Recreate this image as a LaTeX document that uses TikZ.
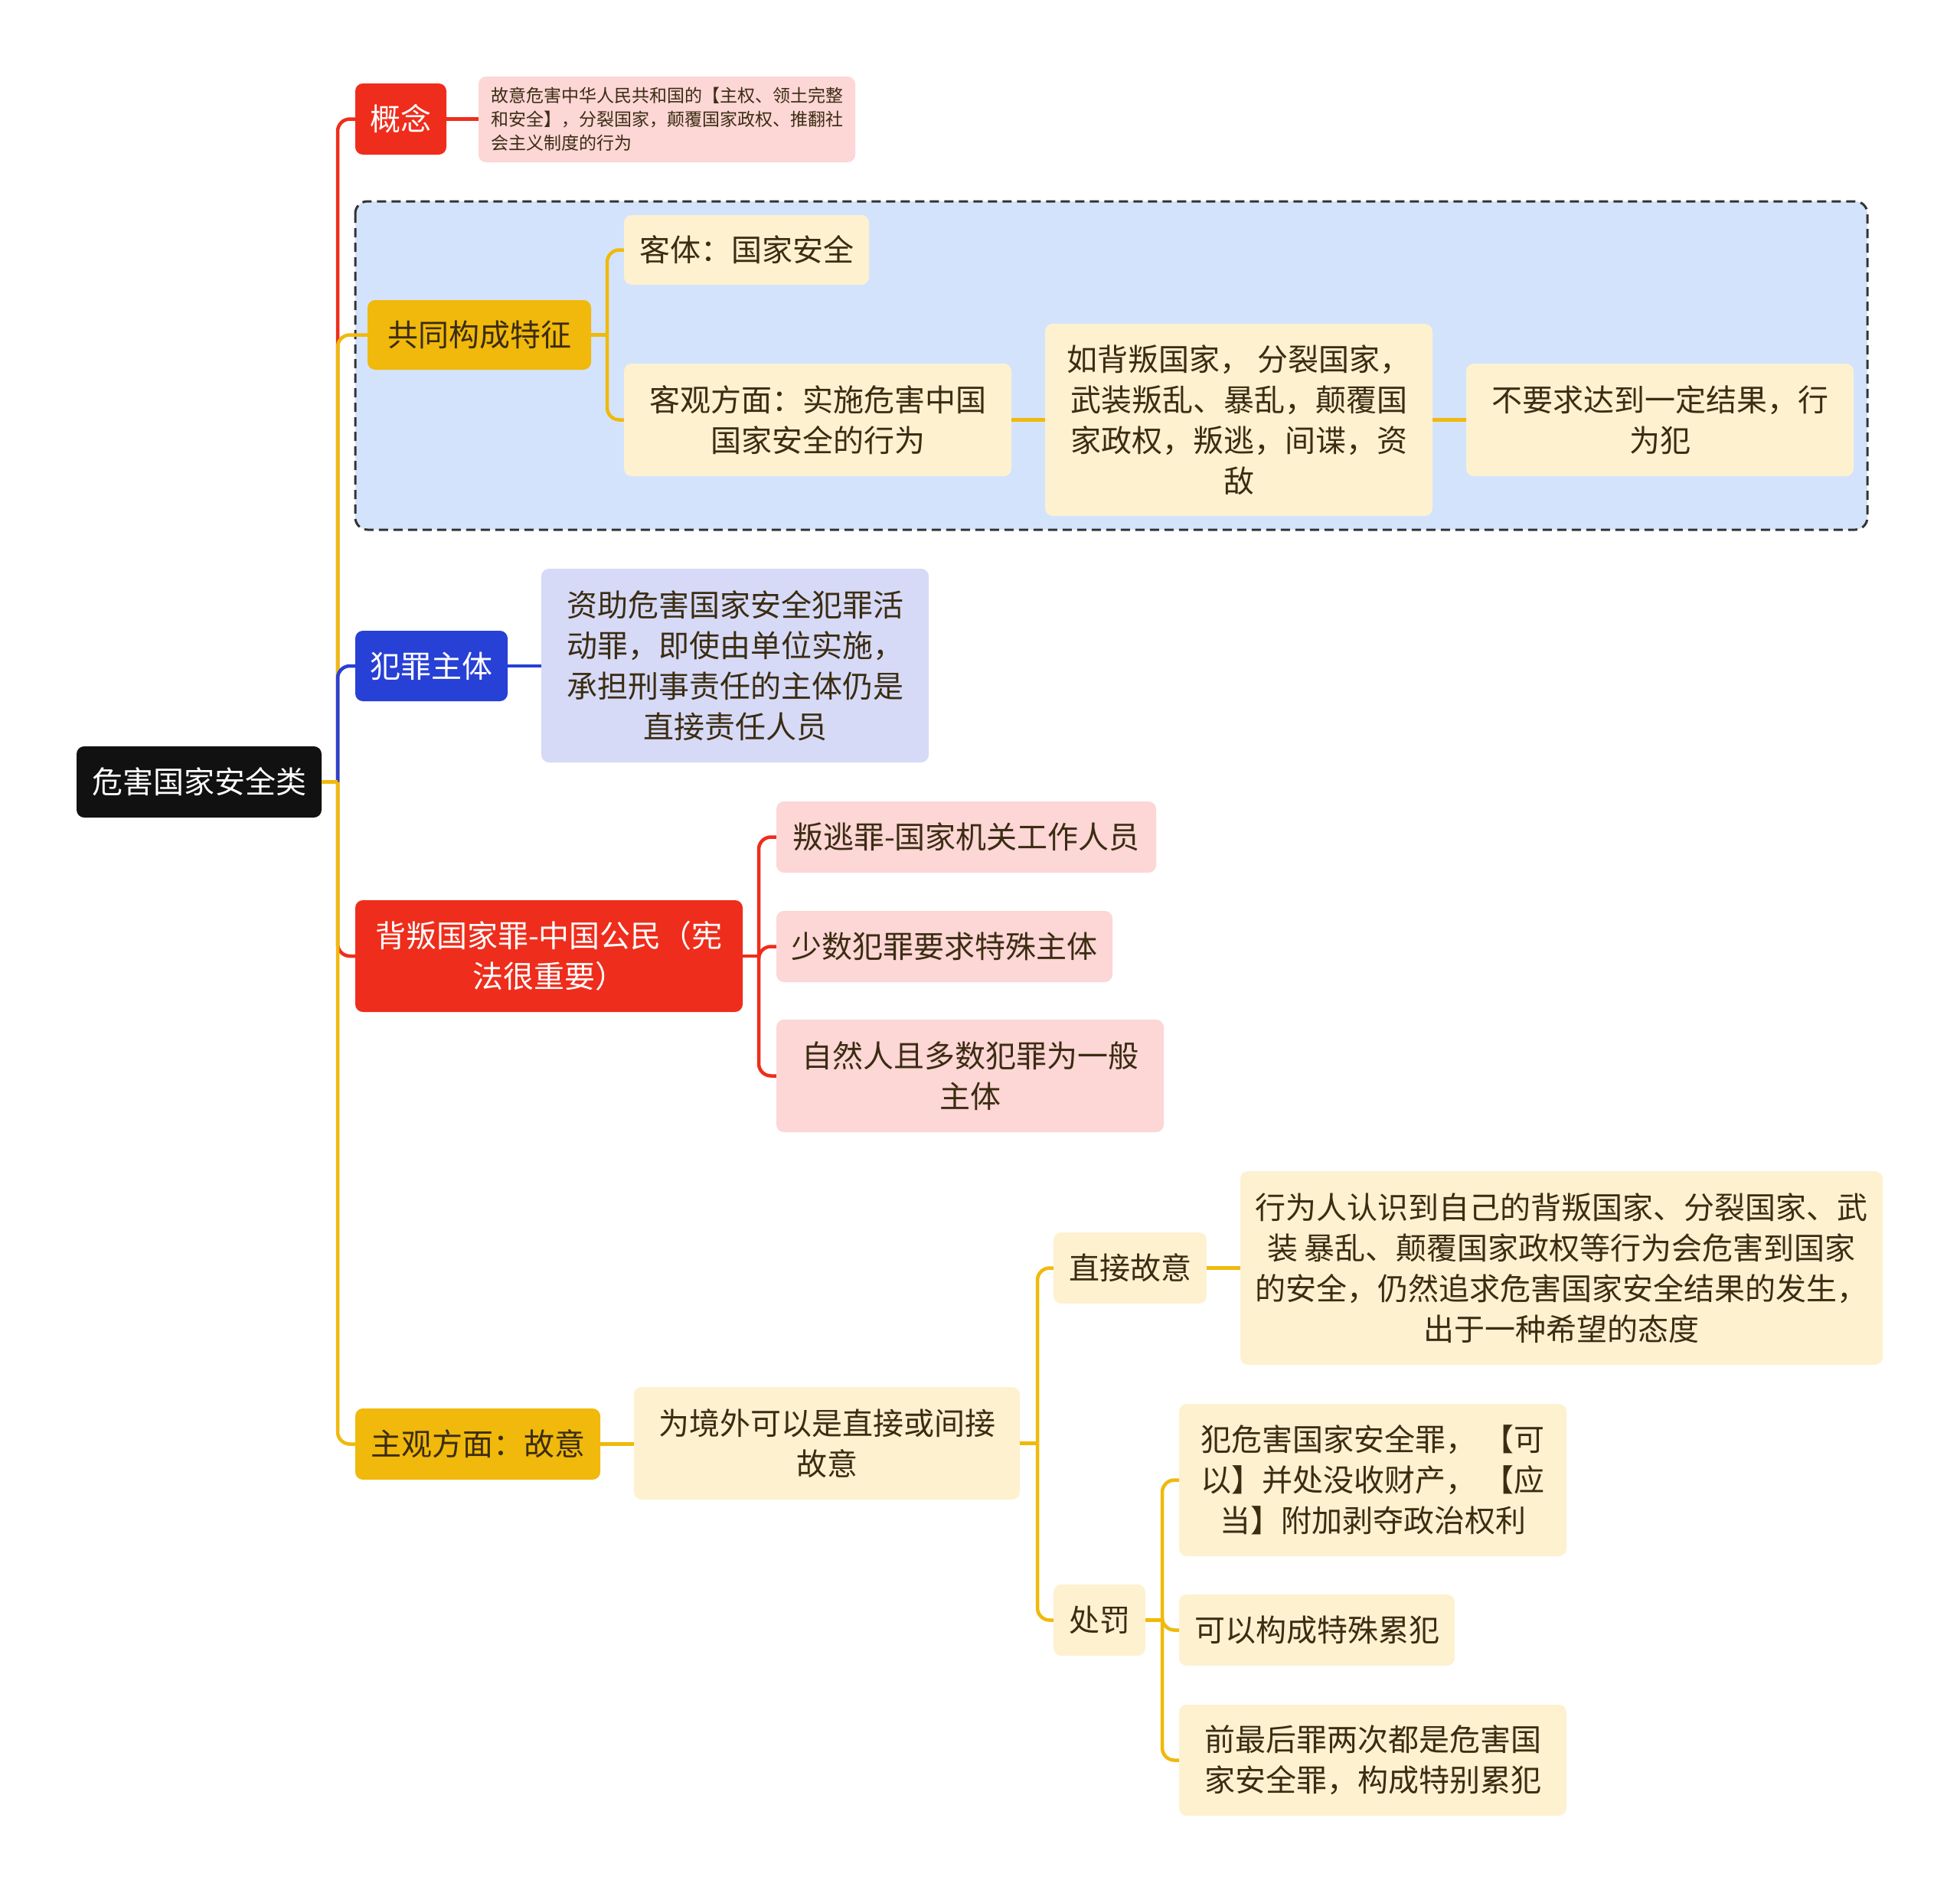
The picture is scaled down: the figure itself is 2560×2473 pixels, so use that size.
\documentclass[tikz,border=0pt]{standalone}
\usepackage{fontspec}
\setmainfont{Noto Sans CJK SC}
\definecolor{cRed}{HTML}{EF2D1C}
\definecolor{cGold}{HTML}{F0B90B}
\definecolor{cBlue}{HTML}{2740D6}
\definecolor{cCream}{HTML}{FDF1D0}
\definecolor{cPink}{HTML}{FDD6D6}
\definecolor{cLav}{HTML}{D6DAF7}
\definecolor{cSky}{HTML}{D4E3FC}
\definecolor{cRoot}{HTML}{111111}
\definecolor{txt}{HTML}{3B2C12}
\begin{document}
\begin{tikzpicture}[x=1pt,y=-1pt,
  box/.style={rounded corners=10pt, inner sep=0pt, align=center,
    font=\fontsize{40}{53}\selectfont, text=txt},
  redbox/.style={box, fill=cRed, text=white},
  goldbox/.style={box, fill=cGold},
  creambox/.style={box, fill=cCream},
  pinkbox/.style={box, fill=cPink},
  conn/.style={line width=4.5pt},
  curvelink/.style={line width=4.5pt, rounded corners=16pt},
]
\useasboundingbox[fill=white] (0,0) rectangle (2560,2473);

% container
\draw[fill=cSky, draw=black!80, line width=3pt, dash pattern=on 12pt off 7pt, rounded corners=16pt]
  (464,263) rectangle (2439,692);

% nodes
\node[box, fill=cRoot, text=white, minimum width=320pt, minimum height=93pt] (root) at (260,1021.5) {危害国家安全类};

\node[redbox, minimum width=119pt, minimum height=93pt] (gainian) at (523.5,155.5) {概念};
\node[pinkbox, minimum width=492pt, minimum height=112pt, align=left,
  font=\fontsize{23}{31}\selectfont] (gnDesc) at (871,156)
  {故意危害中华人民共和国的【主权、领土完整\\和安全】，分裂国家，颠覆国家政权、推翻社\\会主义制度的行为};

\node[goldbox, minimum width=292pt, minimum height=91pt] (gongtong) at (626,437.5) {共同构成特征};
\node[creambox, minimum width=320pt, minimum height=91pt] (keti) at (975,326.5) {客体：国家安全};
\node[creambox, minimum width=506pt, minimum height=147pt] (keguan) at (1068,548.5) {客观方面：实施危害中国\\国家安全的行为};
\node[creambox, minimum width=506pt, minimum height=251pt] (rubei) at (1618,548.5) {如背叛国家， 分裂国家，\\武装叛乱、暴乱，颠覆国\\家政权，叛逃，间谍，资\\敌};
\node[creambox, minimum width=506pt, minimum height=147pt] (buyao) at (2168,548.5) {不要求达到一定结果，行\\为犯};

\node[box, fill=cBlue, text=white, minimum width=199pt, minimum height=92pt] (zhuti) at (563.5,870) {犯罪主体};
\node[box, fill=cLav, minimum width=506pt, minimum height=253pt] (zizhu) at (960,869.5) {资助危害国家安全犯罪活\\动罪，即使由单位实施，\\承担刑事责任的主体仍是\\直接责任人员};

\node[redbox, minimum width=506pt, minimum height=146pt] (beipan) at (717,1249) {背叛国家罪-中国公民（宪\\法很重要）};
\node[pinkbox, minimum width=496pt, minimum height=93pt] (pantao) at (1262,1093.5) {叛逃罪-国家机关工作人员};
\node[pinkbox, minimum width=439pt, minimum height=93pt] (shaoshu) at (1233.5,1236.5) {少数犯罪要求特殊主体};
\node[pinkbox, minimum width=506pt, minimum height=147pt] (ziran) at (1267,1405.5) {自然人且多数犯罪为一般\\主体};

\node[goldbox, minimum width=320pt, minimum height=93pt] (zhuguan) at (624,1886.5) {主观方面：故意};
\node[creambox, minimum width=504pt, minimum height=147pt] (jingwai) at (1080,1885.5) {为境外可以是直接或间接\\故意};
\node[creambox, minimum width=200pt, minimum height=93pt] (zhijie) at (1476,1656.5) {直接故意};
\node[creambox, minimum width=839pt, minimum height=253pt] (xingwei) at (2039.5,1656.5) {行为人认识到自己的背叛国家、分裂国家、武\\装 暴乱、颠覆国家政权等行为会危害到国家\\的安全，仍然追求危害国家安全结果的发生，\\出于一种希望的态度};
\node[creambox, minimum width=120pt, minimum height=93pt] (chufa) at (1436,2116.5) {处罚};
\node[creambox, minimum width=506pt, minimum height=199pt] (fan) at (1793,1933.5) {犯危害国家安全罪， 【可\\以】并处没收财产， 【应\\当】附加剥夺政治权利};
\node[creambox, minimum width=360pt, minimum height=93pt] (keyi) at (1720,2129.5) {可以构成特殊累犯};
\node[creambox, minimum width=506pt, minimum height=145pt] (qian) at (1793,2299.5) {前最后罪两次都是危害国\\家安全罪，构成特别累犯};

% bracket coordinates
\coordinate (T) at (441,0);
\coordinate (B1) at (793,0);
\coordinate (B2) at (991,0);
\coordinate (B3) at (1355,0);
\coordinate (B4) at (1518,0);

% main branches
\draw[curvelink, cRed]  (root.east -| T) |- (gainian.west);
\draw[curvelink, cGold] (root.east -| T) |- (gongtong.west);
\draw[curvelink, cBlue] (root.east -| T) |- (zhuti.west);
\draw[curvelink, cRed]  (root.east -| T) |- (beipan.west);
\draw[curvelink, cGold] (root.east -| T) |- (zhuguan.west);
\draw[conn, cGold] (root.east) -- (root.east -| T);

% sub-branches
\draw[conn, cRed] (gainian.east) -- (gainian.east -| gnDesc.west);

\draw[curvelink, cGold] (gongtong.east -| B1) |- (keti.west);
\draw[curvelink, cGold] (gongtong.east -| B1) |- (keguan.west);
\draw[conn, cGold] (gongtong.east) -- (gongtong.east -| B1);
\draw[conn, cGold] (keguan.east) -- (rubei.west);
\draw[conn, cGold] (rubei.east) -- (buyao.west);

\draw[conn, cBlue] (zhuti.east) -- (zhuti.east -| zizhu.west);

\draw[curvelink, cRed] (beipan.east -| B2) |- (pantao.west);
\draw[curvelink, cRed] (beipan.east -| B2) |- (shaoshu.west);
\draw[curvelink, cRed] (beipan.east -| B2) |- (ziran.west);
\draw[conn, cRed] (beipan.east) -- (beipan.east -| B2);

\draw[conn, cGold] (zhuguan.east) -- (zhuguan.east -| jingwai.west);
\draw[curvelink, cGold] (jingwai.east -| B3) |- (zhijie.west);
\draw[curvelink, cGold] (jingwai.east -| B3) |- (chufa.west);
\draw[conn, cGold] (jingwai.east) -- (jingwai.east -| B3);
\draw[conn, cGold] (zhijie.east) -- (xingwei.west);

\draw[curvelink, cGold] (chufa.east -| B4) |- (fan.west);
\draw[curvelink, cGold] (chufa.east -| B4) |- (keyi.west);
\draw[curvelink, cGold] (chufa.east -| B4) |- (qian.west);
\draw[conn, cGold] (chufa.east) -- (chufa.east -| B4);
\end{tikzpicture}
\end{document}
